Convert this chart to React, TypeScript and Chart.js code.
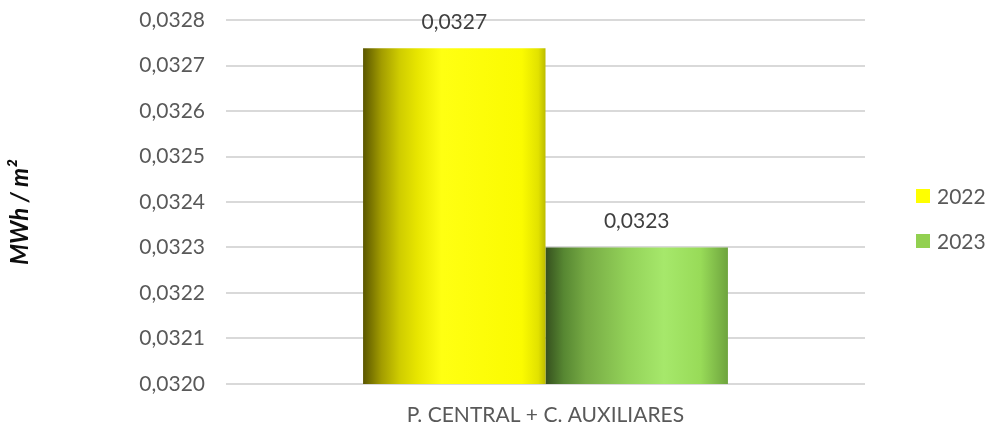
import React, { useEffect, useRef } from 'react';
import { Chart, registerables } from 'chart.js';
Chart.register(...registerables);

const categories = ['P. CENTRAL + C. AUXILIARES'];
const seriesLabels = ['2022', '2023'];
const values2022 = [0.032738];
const values2023 = [0.0323];
const legendColors = ['#FFFF00', '#92D050'];
const yMin = 0.032;
const yMax = 0.0328;
const yStep = 0.0001;
const yTitle = 'MWh / m²';

const yellowStops: [number, string][] = [
  [0, '#5a5600'], [0.1, '#a29c00'], [0.2, '#cfcc00'], [0.3, '#e8e600'],
  [0.43, '#ffff12'], [0.87, '#fbfb00'], [0.96, '#e2e200'], [1, '#bcbc00'],
];
const greenStops: [number, string][] = [
  [0, '#35501e'], [0.1, '#578732'], [0.22, '#76aa44'], [0.45, '#93d259'],
  [0.65, '#a6e86b'], [0.85, '#98db58'], [1, '#6ea43e'],
];
const stopsList = [yellowStops, greenStops];

const FONT = 'Lato, "Open Sans", sans-serif';
const fmt = (v: number) => v.toFixed(4).replace('.', ',');

const gradientPlugin = {
  id: 'barGradient',
  beforeDatasetsDraw(chart: any) {
    const ctx = chart.ctx;
    chart.data.datasets.forEach((ds: any, i: number) => {
      const meta = chart.getDatasetMeta(i);
      meta.data.forEach((el: any) => {
        const { x, width } = el.getProps(['x', 'width'], true);
        const g = ctx.createLinearGradient(x - width / 2, 0, x + width / 2, 0);
        stopsList[i].forEach(([o, c]) => g.addColorStop(o, c));
        el.options.backgroundColor = g;
      });
    });
  },
};

const labelPlugin = {
  id: 'valueLabels',
  afterDatasetsDraw(chart: any) {
    const ctx = chart.ctx;
    ctx.save();
    ctx.font = `21px ${FONT}`;
    ctx.fillStyle = '#404040';
    ctx.textAlign = 'center';
    ctx.textBaseline = 'middle';
    chart.data.datasets.forEach((ds: any, i: number) => {
      const meta = chart.getDatasetMeta(i);
      meta.data.forEach((el: any, j: number) => {
        ctx.fillText(fmt(ds.data[j]), el.x, el.y - 26);
      });
    });
    ctx.restore();
  },
};

const legendPlugin = {
  id: 'customLegend',
  afterDraw(chart: any) {
    const ctx = chart.ctx;
    const area = chart.chartArea;
    ctx.save();
    ctx.font = `21px ${FONT}`;
    ctx.textBaseline = 'middle';
    ctx.textAlign = 'left';
    chart.data.datasets.forEach((ds: any, i: number) => {
      const y = 196 + i * 45;
      const x = area.right + 51;
      ctx.fillStyle = legendColors[i];
      ctx.fillRect(x, y - 7, 14, 14);
      ctx.fillStyle = '#595959';
      ctx.fillText(ds.label, x + 21, y + 1);
    });
    ctx.restore();
  },
};

export default function App() {
  const ref = useRef<HTMLCanvasElement>(null);
  useEffect(() => {
    if (!ref.current) return;
    const chart = new Chart(ref.current, {
      type: 'bar',
      data: {
        labels: categories,
        datasets: [
          { label: seriesLabels[0], data: values2022, backgroundColor: legendColors[0] },
          { label: seriesLabels[1], data: values2023, backgroundColor: legendColors[1] },
        ],
      },
      options: {
        animation: false,
        responsive: false,
        maintainAspectRatio: false,
        layout: { padding: { top: 20, right: 121, bottom: 0, left: 0 } },
        datasets: { bar: { categoryPercentage: 0.571, barPercentage: 1, borderWidth: 0 } },
        plugins: { legend: { display: false }, tooltip: { enabled: false } },
        scales: {
          x: {
            grid: { display: false },
            border: { display: false },
            ticks: { color: '#595959', font: { family: FONT, size: 21 }, padding: 11 },
            afterFit: (axis: any) => { axis.height = 41; axis.paddingLeft = 0; axis.paddingRight = 0; },
          },
          y: {
            min: yMin,
            max: yMax,
            grid: { color: '#d9d9d9', lineWidth: 2, drawTicks: false },
            border: { display: false },
            ticks: {
              stepSize: yStep,
              color: '#595959',
              font: { family: FONT, size: 21 },
              padding: 21,
              callback: (v: any) => fmt(Number(v)),
            },
            title: {
              display: true,
              text: yTitle + '\u00a0\u00a0\u00a0\u00a0',
              color: '#0d0d0d',
              font: { family: FONT, size: 24, weight: 'bold', style: 'italic' },
              padding: { top: 6, bottom: 0 },
            },
            afterFit: (axis: any) => { axis.width = 226; axis.paddingTop = 0; axis.paddingBottom = 0; },
          },
        },
      },
      plugins: [gradientPlugin, labelPlugin, legendPlugin],
    } as any);
    return () => chart.destroy();
  }, []);
  return (
    <div style={{ position: 'absolute', left: 0, top: 0, width: 986, height: 425, background: '#fff' }}>
      <canvas ref={ref} width={986} height={425} style={{ display: 'block' }} />
    </div>
  );
}
